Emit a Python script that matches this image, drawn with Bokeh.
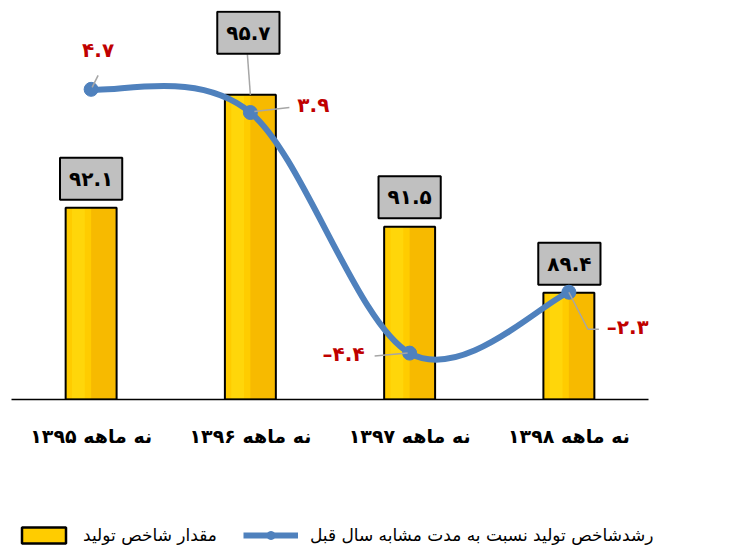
from bokeh.plotting import figure
from bokeh.layouts import column
from bokeh.models import Range1d, Legend, LegendItem, FixedTicker
from bokeh.core.properties import value
from bokeh.embed import file_html
from bokeh.resources import INLINE

# ---------------- data ----------------
categories = ["نه ماهه ۱۳۹۵", "نه ماهه ۱۳۹۶", "نه ماهه ۱۳۹۷", "نه ماهه ۱۳۹۸"]
index_values = [92.1, 95.7, 91.5, 89.4]
index_labels = ["۹۲.۱", "۹۵.۷", "۹۱.۵", "۸۹.۴"]
growth_values = [4.7, 3.9, -4.4, -2.3]
growth_labels = ["۴.۷", "۳.۹", "–۴.۴", "–۲.۳"]
legend_labels = ["مقدار شاخص تولید", "رشدشاخص تولید نسبت به مدت مشابه سال قبل"]

# ---------------- layout ----------------
FRAME_W, FRAME_H = 637, 389
X_RANGE = (0.5, 4.5)
Y1_RANGE = (86.0, 98.38)
Y2_RANGE = (-6.0, 7.42)
BAR_W = 0.32

BAR_FILL = "#FFCC00"
LINE_COLOR = "#4F81BD"

SX = FRAME_W / (X_RANGE[1] - X_RANGE[0])
SY1 = FRAME_H / (Y1_RANGE[1] - Y1_RANGE[0])
SY2 = FRAME_H / (Y2_RANGE[1] - Y2_RANGE[0])

xs = [i + 1 for i in range(len(categories))]

p = figure(frame_width=FRAME_W, frame_height=FRAME_H,
           min_border_left=11, min_border_right=70, min_border_top=10, min_border_bottom=116,
           x_range=Range1d(*X_RANGE), y_range=Range1d(*Y1_RANGE),
           output_backend="svg", toolbar_location=None,
           y_axis_location=None, outline_line_color=None)
p.extra_y_ranges = {"growth": Range1d(*Y2_RANGE)}
p.xgrid.visible = False
p.ygrid.visible = False

ax = p.xaxis[0]
ax.ticker = FixedTicker(ticks=xs)
ax.major_label_overrides = {x: c for x, c in zip(xs, categories)}
ax.major_tick_line_color = None
ax.minor_tick_line_color = None
ax.axis_line_color = "#000000"
ax.axis_line_width = 1.5
ax.major_label_standoff = 19
ax.major_label_text_font = "DejaVu Sans"
ax.major_label_text_font_style = "bold"
ax.major_label_text_font_size = "19px"
ax.major_label_text_color = "#000000"

# ---------------- bars ----------------
base = Y1_RANGE[0]
p.vbar(x=xs, top=index_values, bottom=base, width=BAR_W,
       fill_color=BAR_FILL, line_color=None)
p.vbar(x=[x + BAR_W / 4 for x in xs], top=index_values, bottom=base, width=BAR_W / 2,
       fill_color="#F7BA00", line_color=None)
p.vbar(x=[x - BAR_W / 4 for x in xs], top=index_values, bottom=base, width=BAR_W / 4,
       fill_color="#FFD60A", line_color=None)
p.vbar(x=xs, top=index_values, bottom=base, width=BAR_W,
       fill_alpha=0.0, line_color="#000000", line_width=2)

# bar value labels (offsets in px above bar top)
box_up_px = [29, 62, 29.5, 29]
box_dx_px = [0, -2, 0, 0.5]
box_x = [x + d / SX for x, d in zip(xs, box_dx_px)]
box_y = [v + u / SY1 for v, u in zip(index_values, box_up_px)]

# leader for the label that sits far above its bar
lead_x, lead_y = [], []
for x, v, u, d in zip(xs, index_values, box_up_px, box_dx_px):
    if u > 40:
        lead_x.append([x + (d - 1) / SX, x])
        lead_y.append([v + (u - 21.5) / SY1, v])
p.multi_line(xs=lead_x, ys=lead_y, line_color="#A6A6A6", line_width=1.5)

p.text(x=box_x, y=box_y, text=index_labels,
       text_font=value("DejaVu Sans"), text_font_style="bold", text_font_size="20px",
       text_color="#000000", text_align="center", text_baseline="middle",
       background_fill_color="#C0C0C0", border_line_color="#000000", border_line_width=2,
       padding=9)

# ---------------- growth line (smooth) ----------------
n = len(xs)
pts = list(zip(xs, growth_values))
x0s, y0s, x1s, y1s, cx0, cy0, cx1, cy1 = [], [], [], [], [], [], [], []
for i in range(n - 1):
    pm = pts[i - 1] if i > 0 else pts[i]
    pa = pts[i]
    pb = pts[i + 1]
    pn = pts[i + 2] if i + 2 < n else pts[i + 1]
    x0s.append(pa[0]); y0s.append(pa[1])
    x1s.append(pb[0]); y1s.append(pb[1])
    cx0.append(pa[0] + (pb[0] - pm[0]) / 6); cy0.append(pa[1] + (pb[1] - pm[1]) / 6)
    cx1.append(pb[0] - (pn[0] - pa[0]) / 6); cy1.append(pb[1] - (pn[1] - pa[1]) / 6)
p.bezier(x0=x0s, y0=y0s, x1=x1s, y1=y1s, cx0=cx0, cy0=cy0, cx1=cx1, cy1=cy1,
         line_color=LINE_COLOR, line_width=6, y_range_name="growth")
p.scatter(x=xs, y=growth_values, size=14, marker="circle",
          fill_color=LINE_COLOR, line_color=LINE_COLOR, y_range_name="growth")

# growth label leaders and labels (px offsets from each point, screen y down)
leader_px = [[(1, -2), (7, -14)],
             [(4, -1), (39, -5)],
             [(-35, 3), (-2, 0)],
             [(0, 0), (19, 37), (30, 37)]]
label_px = [(7, -39), (63, -8), (-66, 1), (59, 35)]

lx, ly = [], []
for x, v, segs in zip(xs, growth_values, leader_px):
    lx.append([x + dx / SX for dx, dy in segs])
    ly.append([v - dy / SY2 for dx, dy in segs])
p.multi_line(xs=lx, ys=ly, line_color="#A6A6A6", line_width=1.5, y_range_name="growth")

p.text(x=[x + dx / SX for x, (dx, dy) in zip(xs, label_px)],
       y=[v - dy / SY2 for v, (dx, dy) in zip(growth_values, label_px)],
       text=growth_labels, y_range_name="growth",
       text_font=value("DejaVu Sans"), text_font_style="bold", text_font_size="20px",
       text_color="#C00000", text_align="center", text_baseline="middle")

# ---------------- legend (separate strip below the chart) ----------------
lg = figure(width=730, height=34, min_border=0,
            x_range=Range1d(*X_RANGE), y_range=Range1d(*Y1_RANGE),
            output_backend="svg", toolbar_location=None,
            x_axis_location=None, y_axis_location=None, outline_line_color=None)
lg.extra_y_ranges = {"growth": Range1d(*Y2_RANGE)}
lg.xgrid.visible = False
lg.ygrid.visible = False
lg_bar = lg.vbar(x=xs, top=index_values, bottom=base, width=BAR_W,
                 fill_color=BAR_FILL, line_color="#000000", line_width=2.5, visible=False)
lg_line = lg.line(x=xs, y=growth_values, line_color=LINE_COLOR, line_width=6,
                  y_range_name="growth", visible=False)
lg_mark = lg.scatter(x=xs, y=growth_values, size=14, marker="circle",
                     fill_color=LINE_COLOR, line_color=LINE_COLOR,
                     y_range_name="growth", visible=False)

legend = Legend(items=[LegendItem(label=legend_labels[0], renderers=[lg_bar]),
                       LegendItem(label=legend_labels[1], renderers=[lg_line, lg_mark])],
                orientation="horizontal", location=(5, 4),
                glyph_width=55, glyph_height=20, label_standoff=12, spacing=26,
                padding=0, margin=0, border_line_color=None, background_fill_alpha=0,
                label_text_font="DejaVu Sans", label_text_font_size="17px",
                label_text_color="#000000")
lg.add_layout(legend)

layout = column(p, lg, spacing=0)
open("out.html", "w").write(file_html(layout, INLINE))
